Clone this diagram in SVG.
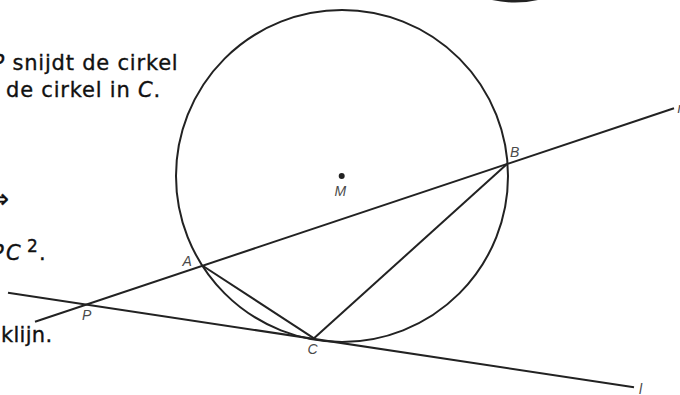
<svg xmlns="http://www.w3.org/2000/svg" width="680" height="395" viewBox="0 0 680 395">
<style>
.ln{stroke:#222;stroke-width:2;fill:none;stroke-linecap:butt}
.txt{font-family:"DejaVu Sans","Liberation Sans",sans-serif;font-size:21px;fill:#111;stroke:#111;stroke-width:0.35px;letter-spacing:0.8px}
.it{font-style:italic}
.lbl{font-family:"Liberation Sans","DejaVu Sans",sans-serif;font-style:italic;font-size:14px;fill:#4a4a4a}
</style>
<rect width="680" height="395" fill="#fff"/>
<path d="M492,0 Q515,5 538,0 Z" fill="#222"/>
<g id="text-block">
<text class="txt" x="-8.5" y="70"><tspan class="it">P</tspan> snijdt de cirkel</text>
<text class="txt" x="6" y="96.7">de cirkel in <tspan class="it">C</tspan>.</text>
<text class="txt" x="9" y="208" text-anchor="end" style="letter-spacing:0;font-size:27px;stroke-width:0.2px">⇒</text>
<text class="txt it" x="-9" y="260">P</text>
<text class="txt it" x="6" y="260">C</text>
<text class="txt" x="27" y="251.5" style="font-size:17px">2</text>
<text class="txt" x="39" y="260">.</text>
<text class="txt" x="1" y="341.7" style="letter-spacing:0.3px">klijn.</text>
</g>
<g id="circle">
<circle class="ln" cx="342" cy="176" r="166"/>
</g>
<g id="connectors">
<line id="line-m" class="ln" x1="35" y1="321.7" x2="674" y2="108.3"/>
<line id="line-l" class="ln" x1="8" y1="292.7" x2="634" y2="387.3"/>
<line id="seg-AC" class="ln" x1="203" y1="266" x2="314" y2="338.3"/>
<line id="seg-BC" class="ln" x1="507" y1="164" x2="314" y2="338.3"/>
</g>
<g id="point-M">
<circle cx="341.7" cy="176" r="3" fill="#222"/>
<text class="lbl" x="334.5" y="196">M</text>
</g>
<g id="point-A"><text class="lbl" x="182.5" y="266">A</text></g>
<g id="point-B"><text class="lbl" x="510" y="157">B</text></g>
<g id="point-C"><text class="lbl" x="307.5" y="354">C</text></g>
<g id="point-P"><text class="lbl" x="82" y="320">P</text></g>
<g id="label-m"><text class="lbl" x="677.5" y="113">m</text></g>
<g id="label-l"><text class="lbl" x="639" y="394">l</text></g>
</svg>
